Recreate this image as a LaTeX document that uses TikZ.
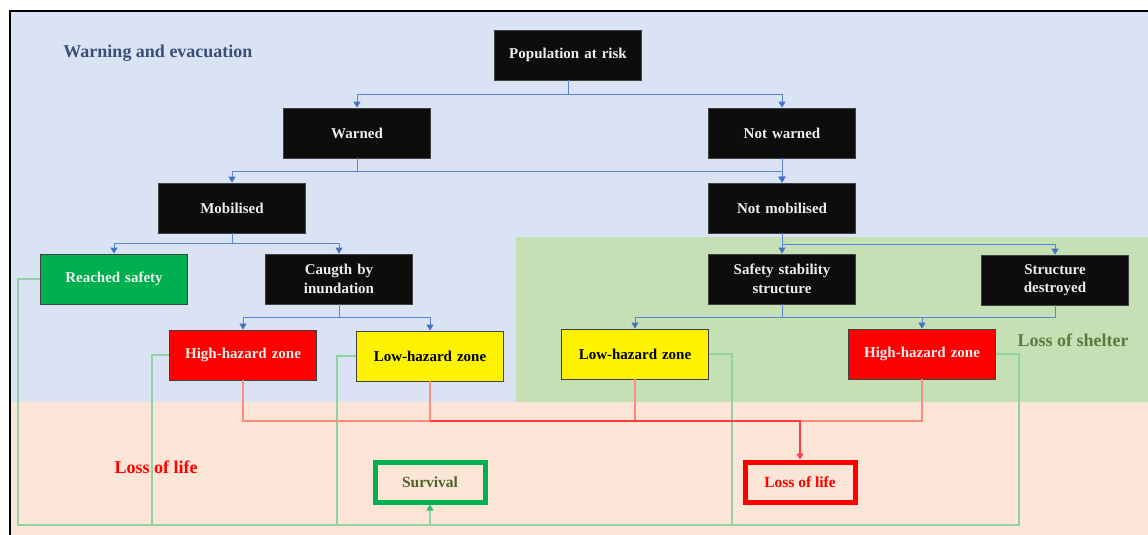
\documentclass[tikz,border=0pt]{standalone}
\usepackage{fontspec}
\setmainfont{Liberation Serif}
\usetikzlibrary{arrows.meta}
\definecolor{bgblue}{HTML}{DAE3F3}
\definecolor{bggreen}{HTML}{C5E0B4}
\definecolor{bgpeach}{HTML}{FBE5D6}
\definecolor{boxblack}{HTML}{0D0D0D}
\definecolor{boxedge}{HTML}{404040}
\definecolor{safegreen}{HTML}{00B050}
\definecolor{linkblue}{HTML}{5B84D2}
\definecolor{tipblue}{HTML}{4472C4}
\definecolor{linkgreen}{HTML}{8ED3A0}
\definecolor{linkred}{HTML}{FF8A80}
\definecolor{trunkred}{HTML}{FF3B3B}
\definecolor{titleblue}{HTML}{3A4E7A}
\definecolor{sheltergreen}{HTML}{5B7B3E}
\definecolor{survtext}{HTML}{4F6228}
\tikzset{
  box/.style={draw=boxedge, line width=0.8pt, minimum width=147pt, minimum height=50pt,
    inner sep=2pt, align=center, text width=142pt,
    font=\fontsize{15}{18.5}\selectfont\bfseries},
  blackbox/.style={box, fill=boxblack, text=white!93!black},
  greenbox/.style={box, fill=safegreen, text=white!93!black},
  redbox/.style={box, fill=red, text=white!93!black},
  yellowbox/.style={box, fill=yellow, text=black},
  outcome/.style={line width=5pt, minimum width=110pt, minimum height=40pt,
    inner sep=2pt, font=\fontsize{15.5}{18}\selectfont\bfseries},
  regionlabel/.style={font=\fontsize{18}{20}\selectfont\bfseries, inner sep=0pt},
  bline/.style={draw=linkblue, line width=0.9pt},
  barrow/.style={bline, -{Triangle[width=7pt,length=6pt,color=tipblue]}},
  gline/.style={draw=linkgreen, line width=1.3pt},
  garrow/.style={gline, -{Triangle[width=7pt,length=6pt,color=safegreen!80!white]}},
  rline/.style={draw=linkred, line width=1.2pt},
  rtrunk/.style={draw=trunkred, line width=1.3pt},
}
\begin{document}
\begin{tikzpicture}[x=1pt, y=-1pt]
\useasboundingbox (0,0) rectangle (1148,535);
% background zones
\fill[white] (0,0) rectangle (1148,535);
\fill[bgblue] (10,11) rectangle (1148,402);
\fill[bggreen] (516,237) rectangle (1148,402);
\fill[bgpeach] (10,402) rectangle (1148,535);
\draw[black, line width=2pt] (10,535) -- (10,11.5) -- (1148,11.5);

% zone labels
\node[regionlabel, text=titleblue] (zwarn) at (158,53) {Warning and evacuation};
\node[regionlabel, text=sheltergreen] (zshelter) at (1073,340) {Loss of shelter};
\node[regionlabel, text=red] (zlife) at (156,467) {Loss of life};

% decision tree
\node[blackbox] (pop) at (568,55) {Population at risk};
\node[blackbox] (warned) at (357,133) {Warned};
\node[blackbox] (notwarned) at (782,133) {Not warned};
\node[blackbox] (mob) at (232,208) {Mobilised};
\node[blackbox] (notmob) at (782,208) {Not mobilised};
\node[greenbox] (rs) at (114,279) {Reached safety};
\node[blackbox] (caught) at (339,279) {Caugth by\\inundation};
\node[blackbox] (sss) at (782,279) {Safety stability\\structure};
\node[blackbox] (sd) at (1055,280) {Structure\\destroyed};
\node[redbox] (hl) at (243,355) {High-hazard zone};
\node[yellowbox] (ll) at (430,356) {Low-hazard zone};
\node[yellowbox] (lr) at (635,354) {Low-hazard zone};
\node[redbox] (hr) at (922,354) {High-hazard zone};

% outcomes
\node[outcome, draw=safegreen, text=survtext] (surv) at (430,482) {Survival};
\node[outcome, draw=red, text=red] (lol) at (800,482) {Loss of life};

% junction points of the branching lines
\coordinate (b1) at (568,94);
\coordinate (b2) at (357,171);
\coordinate (b3) at (232,243);
\coordinate (b4) at (782,244);
\coordinate (b5) at (339,317);
\coordinate (b6) at (782,317);
\coordinate (gA) at (18,525);
\coordinate (gB) at (152,525);
\coordinate (gC) at (337,525);
\coordinate (gD) at (732,525);
\coordinate (gE) at (1019,525);
\coordinate (rj) at (800,421);

% blue branching
\draw[bline] (pop.south) -- (b1);
\draw[barrow] (b1) -| (warned.north);
\draw[barrow] (b1) -| (notwarned.north);
\draw[bline] (warned.south) -- (b2);
\draw[barrow] (b2) -| (mob.north);
\draw[barrow] (b2) -| (notmob.north);
\draw[barrow] (notwarned.south) -- (notmob.north);
\draw[bline] (mob.south) -- (b3);
\draw[barrow] (b3) -| (rs.north);
\draw[barrow] (b3) -| (caught.north);
\draw[barrow] (notmob.south) -- (sss.north);
\draw[barrow] (b4) -| (sd.north);
\draw[bline] (caught.south) -- (b5);
\draw[barrow] (b5) -| (hl.north);
\draw[barrow] (b5) -| (ll.north);
\draw[bline] (sss.south) -- (b6);
\draw[barrow] (b6) -| (lr.north);
\draw[barrow] (b6) -| (hr.north);
\draw[bline] (sd.south) |- (b6);

% green paths to survival
\draw[gline] (hl.west) -| (gB);
\draw[gline] (ll.west) -| (gC);
\draw[gline] (lr.east) -| (gD);
\draw[gline] (hr.east) -| (gE) -- (surv.south |- gE);
\draw[garrow] (rs.west) -| (gA) -| (surv.south);

% red paths to loss of life
\draw[rline] (hl.south) |- (rj);
\draw[rline] (ll.south) |- (rj);
\draw[rline] (lr.south) |- (rj);
\draw[rline] (hr.south) |- (rj);
\draw[rtrunk, -{Triangle[width=7pt,length=6pt]}] (ll.south |- rj) -- (rj) -- (lol.north);
\end{tikzpicture}
\end{document}
